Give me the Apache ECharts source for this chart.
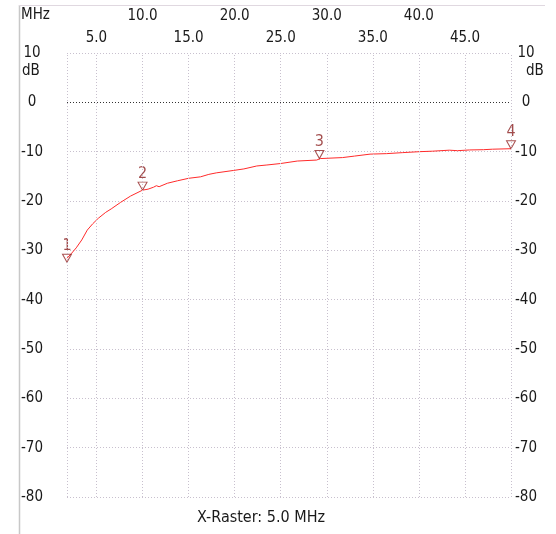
<!DOCTYPE html>
<html>
<head>
<meta charset="utf-8">
<script src="https://cdn.jsdelivr.net/npm/echarts@6/dist/echarts.min.js"></script>
<style>
  html, body { margin: 0; padding: 0; background: #fff; }
  #chart { width: 556px; height: 534px; }
</style>
</head>
<body>
<div id="chart"></div>
<script>
// frequency response trace (MHz / dB)
var freqMHz = [1.8, 2.3, 2.8, 3.4, 4.0, 4.6, 5.2, 6.0, 6.6, 7.6, 8.7, 10.0, 10.6, 11.2, 11.5, 11.8, 12.7,
    13.8, 15.0, 16.3, 17.2, 18.0, 19.9, 21.0, 22.4, 23.5, 25.0, 26.8, 28.9, 29.3, 31.7, 33.0, 34.7,
    36.5, 38.2, 40.1, 41.5, 43.3, 44.2, 45.5, 47.0, 48.0, 50.0];
var gainDb = [-31.6, -30.6, -29.5, -27.9, -25.9, -24.6, -23.5, -22.3, -21.6, -20.3, -19.0, -17.8, -17.6, -17.2, -16.9, -17.1, -16.4,
    -15.9, -15.4, -15.1, -14.6, -14.3, -13.8, -13.5, -12.9, -12.7, -12.4, -11.9, -11.7, -11.4, -11.2, -10.9, -10.5,
    -10.4, -10.2, -10.0, -9.9, -9.7, -9.8, -9.65, -9.6, -9.5, -9.4];

// markers
var markerNames = ['1', '2', '3', '4'];
var markerFreq = [1.8, 10.0, 29.2, 50.0];
var markerDb = [-32.4, -17.8, -11.4, -9.4];

// raster
var rasterMajor = [10, 20, 30, 40];
var rasterMinor = [5, 15, 25, 35, 45];
var rasterLines = [1.8, 5, 10, 15, 20, 25, 30, 35, 40, 45, 50];
var xMin = 1.8, xMax = 50;
var yMin = -80, yMax = 10;

var txtFont = '"DejaVu Sans Condensed", "DejaVu Sans"';
var txtSize = 15;
var gridColor = '#c8c0ce';

var chart = echarts.init(document.getElementById('chart'));

var topAxis = function (vals, margin) {
    return {
        type: 'value', position: 'top', min: xMin, max: xMax,
        axisLine: { show: false }, axisTick: { show: false }, splitLine: { show: false },
        axisLabel: {
            customValues: vals, margin: margin, color: '#1a1a1a',
            fontFamily: txtFont, fontSize: txtSize,
            formatter: function (v) { return v.toFixed(1); }
        }
    };
};

var option = {
    animation: false,
    grid: { left: 67, right: 45, top: 53, bottom: 37 },
    xAxis: [
        {
            type: 'value', min: xMin, max: xMax,
            axisLine: { show: false }, axisTick: { show: false },
            axisLabel: { show: false }, splitLine: { show: false }
        },
        topAxis(rasterMajor, 29),
        topAxis(rasterMinor, 7)
    ],
    yAxis: [
        {
            type: 'value', min: yMin, max: yMax, interval: 10,
            axisLine: { show: false }, axisTick: { show: false },
            axisLabel: { margin: 35, align: 'center', color: '#1a1a1a', fontFamily: txtFont, fontSize: txtSize },
            splitLine: { lineStyle: { color: gridColor, type: [1, 2], width: 1 } }
        },
        {
            type: 'value', min: yMin, max: yMax, interval: 10, position: 'right',
            axisLine: { show: false }, axisTick: { show: false },
            axisLabel: { margin: 15, align: 'center', color: '#1a1a1a', fontFamily: txtFont, fontSize: txtSize },
            splitLine: { show: false }
        }
    ],
    series: [
        {
            // raster lines
            type: 'scatter', data: [], silent: true, z: 1,
            markLine: {
                silent: true, symbol: 'none', label: { show: false }, animation: false,
                data: rasterLines.map(function (f) {
                    return { xAxis: f, lineStyle: { color: gridColor, type: [1, 2], width: 1 } };
                }).concat([{ yAxis: 0, lineStyle: { color: '#333', type: [1, 2], width: 1 } }])
            }
        },
        {
            type: 'line', showSymbol: false, z: 3,
            data: freqMHz.map(function (f, i) { return [f, gainDb[i]]; }),
            lineStyle: { color: '#ff2a2a', width: 1 }
        },
        {
            type: 'scatter', z: 4, clip: false,
            symbol: 'triangle', symbolRotate: 180, symbolSize: [9, 8], symbolOffset: [0, -4],
            itemStyle: { color: 'rgba(255,255,255,0)', borderColor: '#922626', borderWidth: 1 },
            label: {
                show: true, position: 'top', distance: 0, color: '#8b1f1f',
                fontFamily: txtFont, fontSize: 16,
                formatter: function (p) { return markerNames[p.dataIndex]; }
            },
            data: markerFreq.map(function (f, i) { return [f, markerDb[i]]; })
        }
    ],
    graphic: [
        { type: 'line', shape: { x1: 19.5, y1: 5, x2: 19.5, y2: 534 }, style: { stroke: '#c8c8c8', lineWidth: 1.5 } },
        { type: 'line', shape: { x1: 19, y1: 5.5, x2: 545, y2: 5.5 }, style: { stroke: '#e0d8e0', lineWidth: 1 } },
        { type: 'text', left: 21, top: 8, style: { text: 'MHz', font: '15px "DejaVu Sans Condensed", "DejaVu Sans"', fill: '#1a1a1a' } },
        { type: 'text', left: 22, top: 64, style: { text: 'dB', font: '15px "DejaVu Sans Condensed", "DejaVu Sans"', fill: '#1a1a1a' } },
        { type: 'text', left: 526, top: 64, style: { text: 'dB', font: '15px "DejaVu Sans Condensed", "DejaVu Sans"', fill: '#1a1a1a' } },
        { type: 'text', left: 197, top: 510, style: { text: 'X-Raster: 5.0 MHz', font: '16px "DejaVu Sans Condensed", "DejaVu Sans"', fill: '#1a1a1a' } }
    ]
};

chart.setOption(option);
</script>
</body>
</html>
